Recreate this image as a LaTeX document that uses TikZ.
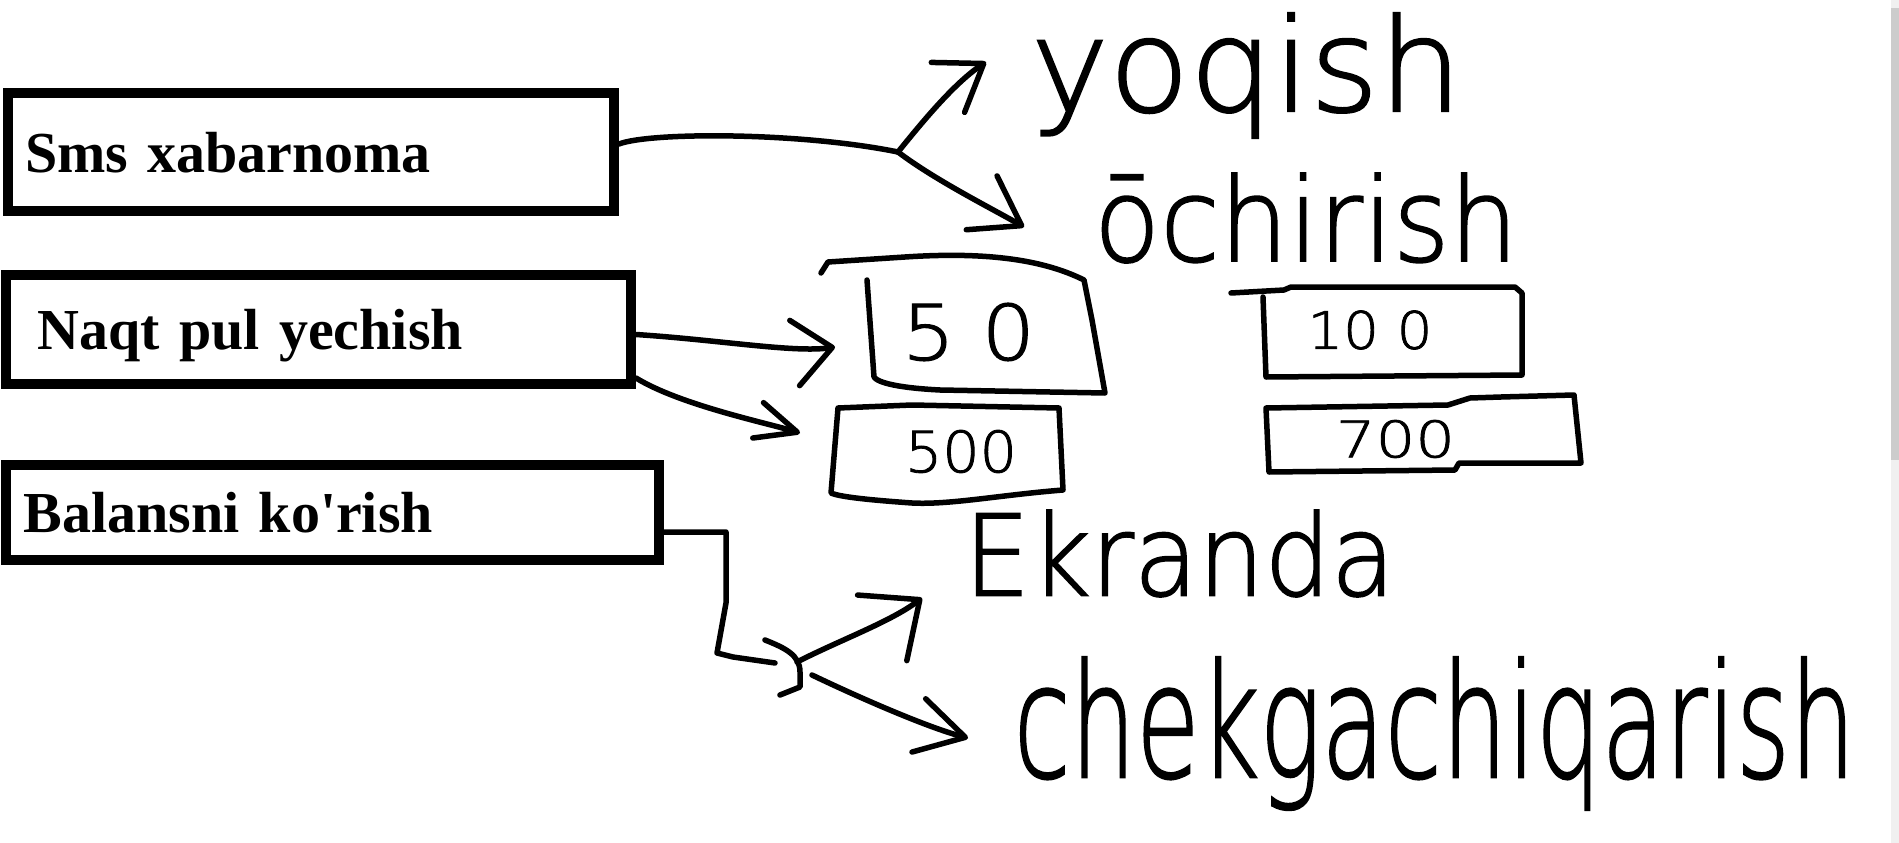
\documentclass[tikz,border=0pt]{standalone}
\usepackage{fontspec}
\usepackage{graphicx}
\usetikzlibrary{arrows.meta,calc}
\newfontfamily\boxfont{Liberation Serif}[Ligatures=TeXOff]
\newfontfamily\handfont{DejaVu Sans ExtraLight}[FakeBold=1.5]
\newcommand{\scrawl}[3]{\resizebox*{#1pt}{#2pt}{\handfont #3}}
\tikzset{
  menubox/.style={draw, line width=10pt, inner ysep=0pt, align=left, text height=46pt, text depth=6pt, font=\boxfont\bfseries\fontsize{58}{60}\selectfont},
  scribble/.style={line width=5.5pt, line cap=round, line join=round},
  barb/.style 2 args={-{Straight Barb[round,length=#1pt,width=#2pt]}},
  handnote/.style={inner sep=0pt}
}

\begin{document}
\begin{tikzpicture}[x=1pt,y=-1pt]
        \useasboundingbox (0,0) rectangle (1899,843);
        % scrollbar
        \fill[black!6] (1891,0) rectangle (1899,843);
        \fill[black!20] (1891,8) rectangle (1899,460);

        % menu
        \node[menubox, minimum width=606pt, minimum height=118pt, text width=572pt, inner xsep=17pt] (sms) at (311,152) {Sms xabarnoma};
        \node[menubox, minimum width=625pt, minimum height=109pt, text width=562pt, inner xsep=31.5pt] (naqt) at (318.5,329.5) {Naqt pul yechish};
        \node[menubox, minimum width=653pt, minimum height=95pt, text width=618pt, inner xsep=17.5pt] (bal) at (332.5,512.5) {Balansni ko'rish};

        % notes
        \node[handnote] (yoqish) at (1246.5,75.5) {\scrawl{431}{125}{yoqish}};
        \node[handnote] (ochirish) at (1306,218) {\scrawl{424}{90}{ōchirish}};
        \node[handnote] (ekranda) at (1179.5,553.5) {\scrawl{431}{87}{Ekranda}};
        \node[handnote] (chek) at (1434.5,733.5) {\scrawl{841}{153}{chekgachiqarish}};

        % sums
        \node[handnote] (n50) at (968.5,332) {\scrawl{133}{58}{5 0}};
        \node[handnote] (n100) at (1370,330) {\scrawl{125}{39}{10 0}};
        \node[handnote] (n500) at (961,451.5) {\scrawl{112}{43}{500}};
        \node[handnote] (n700) at (1395.5,439) {\scrawl{119}{38}{700}};
        \draw[scribble] (821,273) -- (828,262) -- (905,257) .. controls (980,252) and (1040,258) .. (1084,280) -- (1092,320) -- (1105,393) -- (940,390) .. controls (900,388) and (878,383) .. (874,377) -- (867,280);
        \draw[scribble] (1231,293) -- (1284,290) -- (1291,287) -- (1515,287) -- (1522,293) -- (1522,375) -- (1266,377) -- (1263,297);
        \draw[scribble] (838,408) -- (912,405) -- (1059,408) -- (1063,490) .. controls (1000,495) and (950,505) .. (912,503) .. controls (870,500) and (840,497) .. (831,493) -- cycle;
        \draw[scribble] (1266,408) -- (1448,405) -- (1470,398) -- (1501,397) -- (1574,395) -- (1581,463) -- (1459,463) -- (1455,470) -- (1269,472) -- cycle;

        % arrows
        \coordinate (smsSplit) at (898,152);
        \coordinate (tipYoq) at (986,62);
        \coordinate (tipOch) at (1024,227);
        \coordinate (tip50) at (835,347);
        \coordinate (tip500) at (800,433);
        \coordinate (balSplit) at (797,662);
        \coordinate (tipEkr) at (922,598);
        \coordinate (tipChek) at (968,738);
        \draw[scribble] ([yshift=8pt]sms.east) .. controls (650,132) and (800,132) .. (smsSplit);
        \draw[scribble, barb={43}{60}] (smsSplit) .. controls (920,125) and (953,84) .. (tipYoq);
        \draw[scribble, barb={46}{62}] (smsSplit) .. controls (935,180) and (989,207) .. (tipOch);
        \draw[scribble, barb={38}{66}] ([yshift=-5pt]naqt.east) .. controls (720,340) and (795,353) .. (tip50);
        \draw[scribble, barb={41}{37}] ([yshift=11pt]naqt.south east) .. controls (680,405) and (767,423) .. (tip500);
        \draw[scribble] ([yshift=-19.5pt]bal.east) -| (726,603) -- (717,653) -- (733,657) -- ($(balSplit)+(-22,1)$);
        \draw[scribble] (765,640) .. controls (785,648) and (800,655) .. (800,672) -- (800,687) -- (780,695);
        \draw[scribble, barb={47}{82}] (balSplit) .. controls (840,640) and (890,622) .. (tipEkr);
        \draw[scribble, barb={48}{55}] ($(balSplit)+(15,13)$) .. controls (860,698) and (929,728) .. (tipChek);
\end{tikzpicture}
\end{document}
